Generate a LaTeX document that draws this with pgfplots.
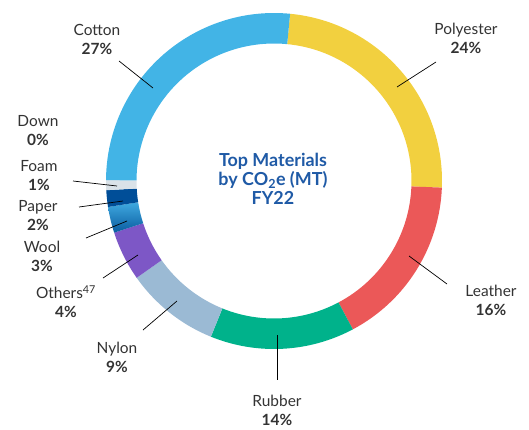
\documentclass[border=0pt]{standalone}
\usepackage{pgfplots}
\pgfplotsset{compat=1.18}
\usepackage{pgfplotstable}
\usepackage{fontspec}
\setmainfont{Lato}

\definecolor{cCotton}{HTML}{42B4E6}
\definecolor{cPoly}{HTML}{F2D03F}
\definecolor{cLeather}{HTML}{EB5858}
\definecolor{cRubber}{HTML}{00B28B}
\definecolor{cNylon}{HTML}{9BBAD4}
\definecolor{cOthers}{HTML}{7D57C6}
\definecolor{cWoolA}{HTML}{3FA9E0}
\definecolor{cWoolB}{HTML}{0A5CA0}
\definecolor{cPaper}{HTML}{004E98}
\definecolor{cFoam}{HTML}{DAE2E8}
\definecolor{cText}{HTML}{333333}
\definecolor{cTitle}{HTML}{1F5AA6}

\tikzset{
  sCotton/.style={fill=cCotton},
  sPoly/.style={fill=cPoly},
  sLeather/.style={fill=cLeather},
  sRubber/.style={fill=cRubber},
  sNylon/.style={fill=cNylon},
  sOthers/.style={fill=cOthers},
  sWool/.style={top color=cWoolA, bottom color=cWoolB},
  sPaper/.style={fill=cPaper},
  sFoam/.style={fill=cFoam},
  sNone/.style={},
  lbl/.style={align=center, text=cText, font=\fontsize{15.5}{19}\selectfont},
  lead/.style={black, line width=0.7pt},
}

% shares in percent, clockwise starting just right of 12 o'clock
\pgfplotstableread{
name value sty
Polyester 24.1 sPoly
Leather 16.6 sLeather
Rubber 13.9 sRubber
Nylon 9.1 sNylon
Others 4.8 sOthers
Wool 2.5 sWool
Paper 1.6 sPaper
Foam 0.95 sFoam
Down 0 sNone
Cotton 26.45 sCotton
}\shares

\begin{document}
\begin{tikzpicture}
\begin{axis}[
  x=1bp, y=1bp,
  xmin=-274, xmax=255, ymin=-245, ymax=181,
  hide axis, clip=false,
]
\path (rel axis cs:0,0) rectangle (rel axis cs:1,1);
\pgfmathsetmacro\cur{84.5}
\pgfplotsforeachungrouped \i in {0,...,9}{%
  \pgfplotstablegetelem{\i}{value}\of\shares \let\v\pgfplotsretval
  \pgfplotstablegetelem{\i}{sty}\of\shares \let\s\pgfplotsretval
  \pgfmathsetmacro\nxt{\cur-3.6*\v}%
  \pgfmathsetmacro\xa{168*cos(\cur)}%
  \pgfmathsetmacro\ya{168*sin(\cur)}%
  \pgfmathsetmacro\xb{137.5*cos(\nxt)}%
  \pgfmathsetmacro\yb{137.5*sin(\nxt)}%
  \edef\temp{\noexpand\path[\s] (axis cs:\xa,\ya) arc[start angle=\cur,end angle=\nxt,radius=168bp] -- (axis cs:\xb,\yb) arc[start angle=\nxt,end angle=\cur,radius=137.5bp] -- cycle;}%
  \temp
  \let\cur\nxt
}

% leader lines
\draw[lead] (axis cs:-155,120) -- (axis cs:-121,93);
\draw[lead] (axis cs:162,119) -- (axis cs:123,94);
\draw[lead] (axis cs:135,-75) -- (axis cs:173,-103);
\draw[lead] (axis cs:3,-154) -- (axis cs:3,-199);
\draw[lead] (axis cs:-97,-120) -- (axis cs:-131,-149);
\draw[lead] (axis cs:-136,-74) -- (axis cs:-171,-97);
\draw[lead] (axis cs:-147,-40) -- (axis cs:-188,-57);
\draw[lead] (axis cs:-151,-20) -- (axis cs:-195,-26);
\draw[lead] (axis cs:-157,-5) -- (axis cs:-201,0);

% labels
\node[lbl] at (axis cs:-177,141.5) {Cotton\\\textbf{27\%}};
\node[lbl] at (axis cs:192,142.5) {Polyester\\\textbf{24\%}};
\node[lbl] at (axis cs:217,-119.5) {Leather\\\textbf{16\%}};
\node[lbl] at (axis cs:3,-229.5) {Rubber\\\textbf{14\%}};
\node[lbl] at (axis cs:-157,-176.5) {Nylon\\\textbf{9\%}};
\node[lbl] at (axis cs:-208,-120.5) {Others\textsuperscript{47}\\\textbf{4\%}};
\node[lbl] at (axis cs:-232,-75.5) {Wool\\\textbf{3\%}};
\node[lbl] at (axis cs:-236,-34.5) {Paper\\\textbf{2\%}};
\node[lbl] at (axis cs:-235,5.5) {Foam\\\textbf{1\%}};
\node[lbl] at (axis cs:-236,50) {Down\\\textbf{0\%}};

% centre title
\node[align=center, text=cTitle, font=\fontsize{18}{19}\selectfont\bfseries] at (axis cs:-1,2)
  {Top Materials\\by CO\textsubscript{2}e (MT)\\FY22};
\end{axis}
\end{tikzpicture}
\end{document}
